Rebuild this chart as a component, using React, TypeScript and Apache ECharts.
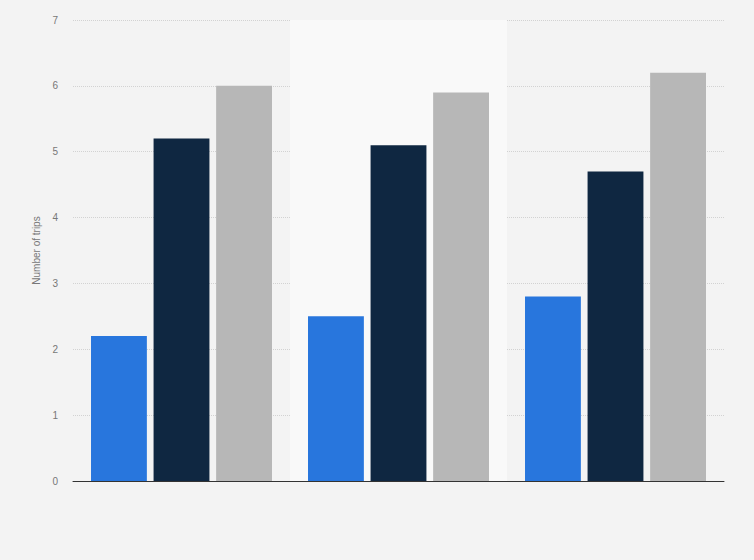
import React, { useEffect, useRef } from "react";
import * as echarts from "echarts";

const categories = ["Group 1", "Group 2", "Group 3"];
const seriesA = [2.2, 2.5, 2.8];
const seriesB = [5.2, 5.1, 4.7];
const seriesC = [6.0, 5.9, 6.2];
const seriesNames = ["Series A", "Series B", "Series C"];
const colors = ["#2876dd", "#0f2741", "#b7b7b7"];

export default function App() {
  const ref = useRef<HTMLDivElement>(null);
  useEffect(() => {
    if (!ref.current) return;
    const chart = echarts.init(ref.current, undefined, { renderer: "svg" });
    const values = [seriesA, seriesB, seriesC];
    chart.setOption({
      animation: false,
      backgroundColor: "#f3f3f3",
      grid: { left: 73, right: 30, top: 20, bottom: 79 },
      xAxis: {
        type: "category",
        data: categories,
        axisLine: { show: true, lineStyle: { color: "#333", width: 1 } },
        axisTick: { show: false },
        axisLabel: { show: false },
        splitArea: { show: true, areaStyle: { color: ["rgba(0,0,0,0)", "#f9f9f9"] } },
      },
      yAxis: {
        type: "value",
        min: 0,
        max: 7,
        interval: 1,
        name: "Number of trips",
        nameLocation: "middle",
        nameGap: 25,
        nameTextStyle: { color: "#777", fontSize: 10, fontFamily: "Arial, Liberation Sans, sans-serif" },
        axisLine: { show: false },
        axisTick: { show: false },
        axisLabel: { color: "#777", fontSize: 10, margin: 15, fontFamily: "Arial, Liberation Sans, sans-serif" },
        splitLine: { lineStyle: { color: "#d2d2d2", type: [1, 1], width: 1 } },
      },
      series: values.map((v, i) => ({
        name: seriesNames[i],
        type: "bar",
        data: v,
        barGap: "12%",
        barCategoryGap: "16.6%",
        itemStyle: { color: colors[i] },
      })),
    });
    return () => chart.dispose();
  }, []);
  return (
    <div
      ref={ref}
      style={{ position: "fixed", left: 0, top: 0, width: 754, height: 560 }}
    />
  );
}
